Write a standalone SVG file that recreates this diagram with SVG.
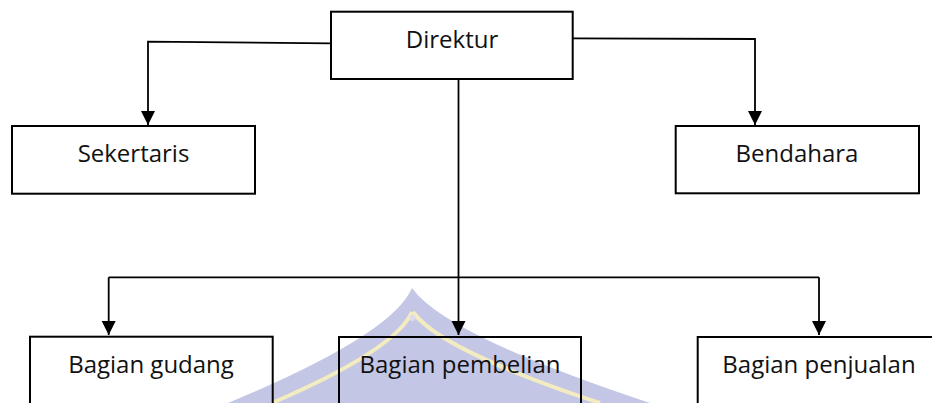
<svg xmlns="http://www.w3.org/2000/svg" width="932" height="403" viewBox="0 0 932 403">
<style>
.box{fill:none;stroke:#000;stroke-width:2}
.lbl{font-family:"Open Sans","Liberation Sans",sans-serif;font-size:24px;fill:#111;text-anchor:middle}
.con{fill:none;stroke:#000;stroke-width:1.8}
</style>
<defs>
<marker id="arr" markerUnits="userSpaceOnUse" markerWidth="16" markerHeight="16" refX="14" refY="7" orient="auto">
<path d="M0,0 L14,7 L0,14 Z" fill="#000"/>
</marker>
</defs>
<rect width="932" height="403" fill="#fff"/>
<g id="watermark">
<path d="M412,288 Q392,335 228,403 L650,403 Q445,335 412,288 Z" fill="#c3c6e4"/>
<path d="M412,312 Q395,350 272,403" fill="none" stroke="#f3ecc0" stroke-width="4"/>
<path d="M413,312 Q440,350 600,403" fill="none" stroke="#f3ecc0" stroke-width="4"/>
<circle cx="412.5" cy="318" r="3" fill="#dcdcec"/>
</g>
<g id="connectors">
<polyline class="con" points="331,43.3 148,41.7 148,125" marker-end="url(#arr)"/>
<polyline class="con" points="572.7,38.3 755,39 755,125" marker-end="url(#arr)"/>
<polyline class="con" points="458.5,79 458.5,335" marker-end="url(#arr)"/>
<polyline class="con" points="108.7,277.3 819,277.3"/>
<polyline class="con" points="108.7,277.3 108.7,335" marker-end="url(#arr)"/>
<polyline class="con" points="819,277.3 819,335" marker-end="url(#arr)"/>
</g>
<g id="direktur">
<rect class="box" x="331" y="11.7" width="241.7" height="67.3"/>
<text class="lbl" x="452" y="48">Direktur</text>
</g>
<g id="sekertaris">
<rect class="box" x="12" y="126" width="243" height="67.7"/>
<text class="lbl" x="133.5" y="162">Sekertaris</text>
</g>
<g id="bendahara">
<rect class="box" x="675.7" y="126" width="243.3" height="67.3"/>
<text class="lbl" x="797" y="162">Bendahara</text>
</g>
<g id="bagian-gudang">
<rect class="box" x="30" y="336.7" width="242.7" height="80"/>
<text class="lbl" x="151" y="373">Bagian gudang</text>
</g>
<g id="bagian-pembelian">
<rect class="box" x="339" y="337" width="242" height="80"/>
<text class="lbl" x="460" y="373">Bagian pembelian</text>
</g>
<g id="bagian-penjualan">
<rect class="box" x="697.7" y="337" width="243" height="80"/>
<text class="lbl" x="819" y="373">Bagian penjualan</text>
</g>
</svg>
